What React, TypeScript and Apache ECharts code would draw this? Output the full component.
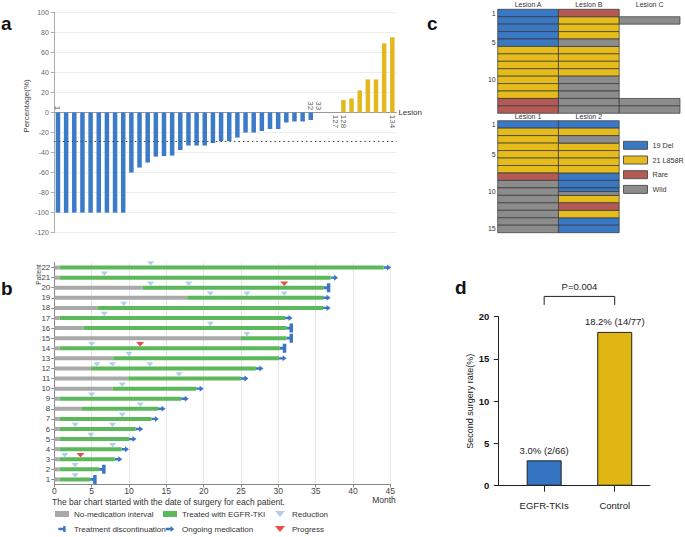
import React, { useEffect, useRef } from 'react';
import * as echarts from 'echarts';

const FONT = "'Liberation Sans', Arial, Helvetica, sans-serif";

// ---------- Panel a: waterfall ----------
const lesionIds = ['1','2','3','4','5','6','7','8','9','10','11','12','13','14','15','16','17','18','19','20','21','22','23','24','25','26','27','28','29','30','31','32','33','','127','128','129','130','131','132','133','134'];
const lesionChange = [-100,-100,-100,-100,-100,-100,-100,-100,-100,-60,-55,-50,-44,-43.5,-43,-37.5,-33,-33,-33,-30.5,-28.5,-28.5,-25,-20,-20,-18.5,-16.5,-16.5,-10,-9,-9,-7.5,0,null,0,12.5,14,22,33,33,69,75];
const labelsAbove = ['1','32','33'];
const labelsBelow = ['127','128','134'];
const responseLine = -29;

// ---------- Panel b: swimmer plot ----------
const patients = ['1','2','3','4','5','6','7','8','9','10','11','12','13','14','15','16','17','18','19','20','21','22'];
const noMedEnd = [0.7,0.7,0.7,0.7,0.7,0.7,0.7,3.7,0.7,7.8,9.9,4.9,7.9,0.7,25.0,3.9,0.7,5.8,17.8,11.8,0.7,0.7];
const treatEnd = [4.8,6.0,8.1,9.0,10.0,10.9,13.0,13.9,17.0,19.0,25.0,27.0,30.1,30.2,31.1,31.1,30.9,36.0,36.0,36.1,37.0,44.1];
const outcome = ['D','D','O','O','O','O','O','O','O','O','O','O','O','D','D','D','O','O','O','D','O','O'];
const reductions = [[2.8],[2.8],[1.4],[7.8],[4.9],[2.8,7.8],[9.1],[11.5],[5.0],[9.1],[16.7],[5.7,7.8,12.8],[10.0],[5.0],[25.8],[20.9],[6.7],[9.3],[20.9,25.8,30.8],[12.9,18.0],[6.7],[12.9]];
const progress = [[],[],[3.5],[],[],[],[],[],[],[],[],[],[],[11.5],[],[],[],[],[],[30.8],[],[]];
const monthTicks = { min: 0, max: 45, interval: 5 };

// ---------- Panel c: mutation tables ----------
const mutationTypes = ['19 Del', '21 L858R', 'Rare', 'Wild'];
const mutationCodes = ['D', 'L', 'R', 'W'];
const mutationColors = ['#3a78c4', '#e5bc1c', '#b35a55', '#8c8c8c'];
const topColumns = ['Lesion A', 'Lesion B', 'Lesion C'];
const topRows = ['1','2','3','4','5','6','7','8','9','10','11','12','13','14'];
const topLesionA = ['D','D','D','D','D','L','L','L','L','L','L','L','R','R'];
const topLesionB = ['R','L','L','L','W','L','L','L','L','W','W','W','W','W'];
const topLesionC = ['','W','','','','','','','','','','','W','W'];
const bottomColumns = ['Lesion 1', 'Lesion 2'];
const bottomRows = ['1','2','3','4','5','6','7','8','9','10','11','12','13','14','15'];
const bottomLesion1 = ['D','L','L','L','L','L','L','R','W','W','W','W','W','W','W'];
const bottomLesion2 = ['D','L','W','L','L','L','L','D','D','D/W','L','R','L','D','D'];

// ---------- Panel d: second surgery rate ----------
const groups = ['EGFR-TKIs', 'Control'];
const groupPos = [1, 2];
const secondSurgeryRate = [3.0, 18.2];
const secondSurgeryCount = ['2/66', '14/77'];
const groupColors = ['#3574c0', '#e0b612'];
const pValueText = 'P=0.004';
const bracketLevel = 22.4;

const BLUE_A = '#3b7bc8';
const YELLOW_A = '#e2b81d';
const GRAY_B = '#a9a9a9';
const GREEN_B = '#5cb85a';
const ARROW_C = '#3a76c4';
const REDUCTION_C = '#9dc3e6';
const PROGRESS_C = '#e41f1c';

const TRI_DOWN = 'path://M0,0 L10,0 L5,6 Z';
const ARROW_ICON = 'path://M0,3 L8,3 L8,0 L14,5 L8,10 L8,7 L0,7 Z';
const DISC_ICON = 'path://M0,3 L8,3 L8,0 L12,0 L12,10 L8,10 L8,7 L0,7 Z';

function cellData(table: string[][], code: string) {
  const out: number[][] = [];
  table.forEach((col, c) => {
    col.forEach((cell, r) => {
      if (!cell) return;
      const parts = cell.split('/');
      parts.forEach((p, k) => {
        if (p === code) out.push([c, r, k, parts.length]);
      });
    });
  });
  return out;
}

function buildOption(): any {
  const cellSeries: any[] = [];
  const tables = [
    { table: [topLesionA, topLesionB, topLesionC], axis: 2 },
    { table: [bottomLesion1, bottomLesion2], axis: 3 },
  ];
  tables.forEach(({ table, axis }) => {
    mutationCodes.forEach((code, i) => {
      const color = mutationColors[i];
      cellSeries.push({
        type: 'custom',
        name: mutationTypes[i],
        xAxisIndex: axis,
        yAxisIndex: axis,
        itemStyle: { color },
        data: cellData(table, code),
        renderItem: (params: any, api: any) => {
          const c = api.coord([api.value(0), api.value(1)]);
          const s = api.size([1, 1]);
          const k = api.value(2);
          const n = api.value(3);
          const h = s[1] / n;
          return {
            type: 'rect',
            shape: { x: c[0] - s[0] / 2, y: c[1] - s[1] / 2 + k * h, width: s[0], height: h },
            style: { fill: color, stroke: '#353535', lineWidth: 0.7 },
          };
        },
      });
    });
  });

  const ongoingData: number[][] = [];
  const discData: number[][] = [];
  outcome.forEach((o, i) => {
    if (o === 'O') ongoingData.push([treatEnd[i], i]);
    else discData.push([treatEnd[i], i]);
  });
  const reductionData: number[][] = [];
  reductions.forEach((arr, i) => arr.forEach((m) => reductionData.push([m, i])));
  const progressData: number[][] = [];
  progress.forEach((arr, i) => arr.forEach((m) => progressData.push([m, i])));

  const lesionLabel = (ids: string[], above: boolean) => ({
    type: 'scatter',
    name: above ? 'lesion-labels-above' : 'lesion-labels-below',
    xAxisIndex: 0,
    yAxisIndex: 0,
    symbolSize: 0.1,
    itemStyle: { color: 'rgba(0,0,0,0)' },
    silent: true,
    data: ids.map((id) => [lesionIds.indexOf(id), 0]),
    label: {
      show: true,
      formatter: (p: any) => lesionIds[p.value[0]],
      position: above ? [0, -2.2] : [0, 2.3],
      rotate: -90,
      align: above ? 'right' : 'left',
      verticalAlign: 'middle',
      fontSize: 8,
      color: '#333',
      fontFamily: FONT,
    },
  });

  const legendText = { fontSize: 8, color: '#333', fontFamily: FONT, lineHeight: 10 };
  const swimLegend = (left: number, data: any[]) => ({
    orient: 'vertical', left, top: 509, padding: 0, itemWidth: 14, itemHeight: 6, itemGap: 5,
    selectedMode: false, textStyle: legendText, data,
  });

  return {
    animation: false,
    backgroundColor: '#fff',
    textStyle: { fontFamily: FONT },
    grid: [
      { left: 53.9, top: 12.3, width: 342.5, height: 220.4 },
      { left: 54.3, top: 262.5, width: 336, height: 222 },
      { left: 497.7, top: 9.3, width: 182.3, height: 104 },
      { left: 497.7, top: 120.7, width: 121.5, height: 112 },
      { left: 498.3, top: 316.7, width: 151.7, height: 169 },
    ],
    xAxis: [
      {
        gridIndex: 0, type: 'category', data: lesionIds,
        axisLine: { onZero: true, lineStyle: { color: '#999', width: 1 } },
        axisTick: { show: false }, axisLabel: { show: false },
        name: 'Lesion', nameLocation: 'end', nameGap: 2,
        nameTextStyle: { fontSize: 8, color: '#333' },
      },
      {
        gridIndex: 1, type: 'value', ...monthTicks,
        axisLine: { show: true, lineStyle: { color: '#888' } },
        axisTick: { show: true, length: 3, lineStyle: { color: '#888' } },
        axisLabel: { fontSize: 8.5, color: '#444', margin: 2 },
        splitLine: { show: true, lineStyle: { color: '#e6e6e6' } },
      },
      {
        gridIndex: 2, type: 'category', data: topColumns, position: 'top',
        axisLine: { show: false }, axisTick: { show: false },
        axisLabel: { fontSize: 7, color: '#333', margin: 1.5 },
      },
      {
        gridIndex: 3, type: 'category', data: bottomColumns, position: 'top',
        axisLine: { show: false }, axisTick: { show: false },
        axisLabel: { fontSize: 7, color: '#333', margin: 0.5 },
      },
      {
        gridIndex: 4, type: 'value', min: 0.35, max: 2.5,
        axisLine: { show: true, lineStyle: { color: '#222', width: 1 } },
        axisTick: { show: true, length: 6, customValues: groupPos, lineStyle: { color: '#222' } },
        axisLabel: {
          customValues: groupPos, margin: 15, fontSize: 9.5, color: '#222',
          formatter: (v: number) => groups[groupPos.indexOf(v)] ?? '',
        },
        splitLine: { show: false },
      },
    ],
    yAxis: [
      {
        gridIndex: 0, type: 'value', min: -120, max: 100, interval: 20,
        axisLine: { show: true, lineStyle: { color: '#aaa' } },
        axisTick: { show: true, length: 3, lineStyle: { color: '#aaa' } },
        axisLabel: { fontSize: 7, color: '#666', margin: 5 },
        splitLine: { show: true, lineStyle: { color: '#ececec' } },
        name: 'Percentage(%)', nameLocation: 'middle', nameGap: 17,
        nameTextStyle: { fontSize: 8, color: '#444', padding: [0, 0, 0, 33] },
      },
      {
        gridIndex: 1, type: 'category', data: patients,
        axisLine: { show: true, lineStyle: { color: '#888' } },
        axisTick: { show: true, length: 3, alignWithLabel: true, interval: 0, lineStyle: { color: '#888' } },
        axisLabel: { fontSize: 8, color: '#444', margin: 4, interval: 0 },
        splitLine: { show: false },
      },
      {
        gridIndex: 2, type: 'category', data: topRows, inverse: true,
        axisLine: { show: false }, axisTick: { show: false },
        axisLabel: { fontSize: 7, color: '#333', margin: 2, interval: (i: number) => i === 0 || (i + 1) % 5 === 0 },
      },
      {
        gridIndex: 3, type: 'category', data: bottomRows, inverse: true,
        axisLine: { show: false }, axisTick: { show: false },
        axisLabel: { fontSize: 7, color: '#333', margin: 2, interval: (i: number) => i === 0 || (i + 1) % 5 === 0 },
      },
      {
        gridIndex: 4, type: 'value', min: 0, max: 20, interval: 5,
        axisLine: { show: true, lineStyle: { color: '#222', width: 1 } },
        axisTick: { show: true, length: 4.5, lineStyle: { color: '#222' } },
        axisLabel: { fontSize: 9.5, fontWeight: 'bold', color: '#111', margin: 9 },
        splitLine: { show: false },
        name: 'Second surgery rate(%)', nameLocation: 'middle', nameGap: 24,
        nameTextStyle: { fontSize: 9, color: '#222' },
      },
    ],
    legend: [
      swimLegend(55, [
        { name: 'No-medication interval', icon: 'rect', itemStyle: { color: GRAY_B } },
        { name: 'Treatment discontinuation', icon: DISC_ICON, itemStyle: { color: ARROW_C } },
      ]),
      swimLegend(163, [
        { name: 'Treated with EGFR-TKI', icon: 'rect', itemStyle: { color: GREEN_B } },
        { name: 'Ongoing medication', icon: ARROW_ICON, itemStyle: { color: ARROW_C } },
      ]),
      swimLegend(275, [
        { name: 'Reduction', icon: TRI_DOWN, itemStyle: { color: REDUCTION_C } },
        { name: 'Progress', icon: TRI_DOWN, itemStyle: { color: PROGRESS_C } },
      ]),
      {
        orient: 'vertical', left: 623, top: 140.3, padding: 0, itemWidth: 24, itemHeight: 8, itemGap: 4.7,
        selectedMode: false, textStyle: { fontSize: 7.2, color: '#333', fontFamily: FONT, lineHeight: 10 },
        data: mutationTypes.map((t, i) => ({
          name: t, icon: 'rect',
          itemStyle: { color: mutationColors[i], borderColor: '#555', borderWidth: 1 },
        })),
      },
    ],
    series: [
      // Panel a
      {
        type: 'bar', name: 'Change', xAxisIndex: 0, yAxisIndex: 0,
        data: lesionChange, barWidth: 4.5,
        itemStyle: { color: (p: any) => (p.value < 0 ? BLUE_A : YELLOW_A) },
        markLine: {
          silent: true, symbol: 'none', label: { show: false },
          lineStyle: { type: [1.5, 3], color: '#444', width: 1 },
          data: [{ yAxis: responseLine }],
        },
      },
      lesionLabel(labelsAbove, true),
      lesionLabel(labelsBelow, false),
      // Panel b
      {
        type: 'bar', name: 'No-medication interval', xAxisIndex: 1, yAxisIndex: 1,
        stack: 'swim', barWidth: 4, data: noMedEnd, itemStyle: { color: GRAY_B },
      },
      {
        type: 'bar', name: 'Treated with EGFR-TKI', xAxisIndex: 1, yAxisIndex: 1,
        stack: 'swim', barWidth: 4, data: treatEnd.map((e, i) => +(e - noMedEnd[i]).toFixed(2)),
        itemStyle: { color: GREEN_B },
      },
      {
        type: 'custom', name: 'Ongoing medication', xAxisIndex: 1, yAxisIndex: 1,
        itemStyle: { color: ARROW_C }, data: ongoingData, clip: false,
        renderItem: (params: any, api: any) => {
          const p = api.coord([api.value(0), api.value(1)]);
          const x = p[0], y = p[1];
          return {
            type: 'polygon',
            shape: { points: [[x, y - 1.2], [x + 3.5, y - 1.2], [x + 3.5, y - 3], [x + 7.5, y], [x + 3.5, y + 3], [x + 3.5, y + 1.2], [x, y + 1.2]] },
            style: { fill: ARROW_C },
          };
        },
      },
      {
        type: 'custom', name: 'Treatment discontinuation', xAxisIndex: 1, yAxisIndex: 1,
        itemStyle: { color: ARROW_C }, data: discData, clip: false,
        renderItem: (params: any, api: any) => {
          const p = api.coord([api.value(0), api.value(1)]);
          const x = p[0], y = p[1];
          return {
            type: 'polygon',
            shape: { points: [[x, y - 1.4], [x + 3, y - 1.4], [x + 3, y - 4.5], [x + 6.5, y - 4.5], [x + 6.5, y + 4.5], [x + 3, y + 4.5], [x + 3, y + 1.4], [x, y + 1.4]] },
            style: { fill: ARROW_C },
          };
        },
      },
      {
        type: 'scatter', name: 'Reduction', xAxisIndex: 1, yAxisIndex: 1,
        symbol: TRI_DOWN, symbolSize: [7, 4.5], symbolOffset: [0, -4],
        itemStyle: { color: REDUCTION_C }, data: reductionData, z: 5,
      },
      {
        type: 'scatter', name: 'Progress', xAxisIndex: 1, yAxisIndex: 1,
        symbol: TRI_DOWN, symbolSize: [8, 4.5], symbolOffset: [0, -4],
        itemStyle: { color: PROGRESS_C }, data: progressData, z: 5,
      },
      // Panel c
      ...cellSeries,
      // Panel d
      {
        type: 'bar', name: 'Second surgery rate', xAxisIndex: 4, yAxisIndex: 4,
        barWidth: 35,
        data: groupPos.map((g, i) => ({
          value: [g, secondSurgeryRate[i]],
          itemStyle: { color: groupColors[i], borderColor: '#222', borderWidth: 1 },
        })),
        label: {
          show: true, position: 'top', distance: 5, fontSize: 9.5, color: '#222',
          formatter: (p: any) => {
            const i = p.dataIndex;
            return `${secondSurgeryRate[i].toFixed(1)}% (${secondSurgeryCount[i]})`;
          },
        },
      },
      {
        type: 'custom', name: 'p-bracket', xAxisIndex: 4, yAxisIndex: 4, clip: false,
        encode: { x: [0, 1], y: 2 }, silent: true,
        data: [[groupPos[0], groupPos[1], bracketLevel]],
        renderItem: (params: any, api: any) => {
          const a = api.coord([api.value(0), api.value(2)]);
          const b = api.coord([api.value(1), api.value(2)]);
          const drop = api.size([0, 1])[1];
          return {
            type: 'group',
            children: [
              {
                type: 'polyline',
                shape: { points: [[a[0], a[1] + drop], [a[0], a[1]], [b[0], a[1]], [b[0], a[1] + drop]] },
                style: { stroke: '#222', lineWidth: 1, fill: null },
              },
              {
                type: 'text',
                x: (a[0] + b[0]) / 2, y: a[1] - 9.5,
                style: { text: pValueText, fontSize: 9.5, fontFamily: FONT, fill: '#222', align: 'center', verticalAlign: 'middle' },
              },
            ],
          };
        },
      },
    ],
    graphic: [
      { type: 'text', x: 1, y: 23, style: { text: 'a', fontSize: 19, fontWeight: 'bold', fontFamily: FONT, fill: '#111', align: 'left', verticalAlign: 'middle' } },
      { type: 'text', x: 1, y: 288, style: { text: 'b', fontSize: 19, fontWeight: 'bold', fontFamily: FONT, fill: '#111', align: 'left', verticalAlign: 'middle' } },
      { type: 'text', x: 427, y: 23, style: { text: 'c', fontSize: 19, fontWeight: 'bold', fontFamily: FONT, fill: '#111', align: 'left', verticalAlign: 'middle' } },
      { type: 'text', x: 455, y: 287, style: { text: 'd', fontSize: 19, fontWeight: 'bold', fontFamily: FONT, fill: '#111', align: 'left', verticalAlign: 'middle' } },
      { type: 'text', x: 52, y: 502, style: { text: 'The bar chart started with the date of surgery for each patient.', fontSize: 8.5, fontFamily: FONT, fill: '#333', align: 'left', verticalAlign: 'middle' } },
      { type: 'text', x: 384, y: 499.5, style: { text: 'Month', fontSize: 8.5, fontFamily: FONT, fill: '#333', align: 'center', verticalAlign: 'middle' } },
      { type: 'text', x: 38, y: 274.5, rotation: Math.PI / 2, style: { text: 'Patient', fontSize: 6.5, fontFamily: FONT, fill: '#444', align: 'center', verticalAlign: 'middle' } },
    ],
  };
}

export default function App() {
  const ref = useRef<HTMLDivElement>(null);
  useEffect(() => {
    const chart = echarts.init(ref.current!, undefined, { renderer: 'svg' });
    chart.setOption(buildOption());
    return () => chart.dispose();
  }, []);
  return (
    <div
      ref={ref}
      style={{ position: 'fixed', left: 0, top: 0, width: 685, height: 537, background: '#fff' }}
    />
  );
}
